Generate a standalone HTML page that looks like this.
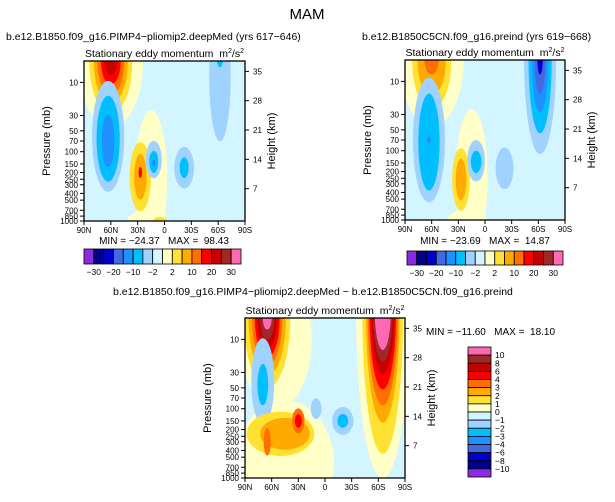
<!DOCTYPE html>
<html><head><meta charset="utf-8">
<style>
body{margin:0;background:#fff;width:615px;height:497px;overflow:hidden;font-family:"Liberation Sans",sans-serif}
svg text{font-family:"Liberation Sans",sans-serif;fill:#000;white-space:pre}
</style></head>
<body>
<svg id="chart" width="615" height="497" viewBox="0 0 615 497" xmlns="http://www.w3.org/2000/svg">
<text x="307" y="19" font-size="15" text-anchor="middle">MAM</text>
<text x="6" y="40" font-size="10.5">b.e12.B1850.f09_g16.PIMP4−pliomip2.deepMed (yrs 617−646)</text>
<text x="362" y="40" font-size="10.5">b.e12.B1850C5CN.f09_g16.preind (yrs 619−668)</text>
<text x="113" y="295" font-size="10.5">b.e12.B1850.f09_g16.PIMP4−pliomip2.deepMed − b.e12.B1850C5CN.f09_g16.preind</text>
<text x="164" y="244" font-size="10" text-anchor="middle">MIN = −24.37   MAX =  98.43</text>
<text x="485" y="244" font-size="10" text-anchor="middle">MIN = −23.69   MAX =  14.87</text>
<text x="426" y="335" font-size="10">MIN = −11.60   MAX =  18.10</text>
</svg>
<script>
const NS='http://www.w3.org/2000/svg';
const svg=document.getElementById('chart');
const palette=['#8a2be2','#00008b','#0000cd','#4169e1','#1e90ff','#00bfff','#a0d2ff','#d2f5ff','#ffffc8','#ffe132','#ffaa00','#ff6e00','#ff0000','#c80000','#a02828','#ff69b4'];
const latTicks=[90,60,30,0,-30,-60,-90];
const latLabels=['90N','60N','30N','0','30S','60S','90S'];
const pTicks=[10,30,50,70,100,150,200,250,300,400,500,700,850,1000];
const zTicks=[35,28,21,14,7];
const topLevels=['−30','−20','−10','−2','2','10','20','30'];
const diffLevels=['10','8','6','4','3','2','1','0','−1','−2','−3','−4','−6','−8','−10'];
// blobs: [lat, pressure(mb), halfwidth deg, halfheight decades, colorIndex]
const blobsA=[[60,5,36,0.95,8],[15,250,18,1.0,8],[20,1000,22,0.15,8],[60,5,24,0.75,9],[60,5,19,0.6,10],[60,5,15,0.48,11],[60,5,11,0.33,12],[60,5,7,0.2,13],
[63,60,18,0.8,6],[63,65,13,0.62,5],[63,70,7,0.38,4],[27,230,12,0.5,9],[27,230,7,0.33,10],[27,200,2,0.08,12],
[12,130,9,0.27,6],[12,140,5,0.16,5],[12,145,2,0.05,4],[-22,170,11,0.3,6],[-22,170,5,0.15,5],[-62,8,12,0.95,6],[-62,4,4,0.18,5],[5,1000,8,0.06,9]];
const blobsB=[[60,5,36,0.95,8],[15,250,18,1.0,8],[20,1000,22,0.15,8],[60,5,22,0.7,9],[60,5,16,0.5,10],[60,5,8,0.2,11],
[63,70,18,0.9,6],[63,75,12,0.7,5],[63,70,2,0.05,4],[27,260,10,0.45,9],[27,260,6,0.3,10],
[10,140,10,0.3,6],[10,145,6,0.16,5],[-22,180,10,0.3,6],[-62,5,18,1.35,6],[-62,5,13,1.05,5],[-62,5,9,0.75,4],[-62,5,6,0.48,3],[-62,5,3,0.2,2]];
const blobsC=[[45,600,55,0.9,8],[55,10,40,1.0,8],[-65,4,30,2.4,8],[65,5,26,1.0,9],[65,5,21,0.82,10],[65,5,17,0.68,11],[65,5,14,0.56,12],[65,5,11,0.44,13],[65,5,8,0.3,14],[65,5,5,0.16,15],
[-65,4,23,2.05,9],[-65,4,19,1.6,10],[-65,4,17,1.35,11],[-65,4,15,1.12,12],[-65,4,13,0.9,13],[-65,4,11,0.72,14],[-65,4,9,0.55,15],
[70,40,13,0.62,6],[70,45,6,0.3,5],[50,230,38,0.32,9],[45,230,28,0.23,10],[30,150,7,0.18,11],[30,150,4,0.1,12],[65,300,4,0.2,11],
[10,100,6,0.15,6],[-20,150,12,0.2,6],[-20,150,6,0.1,5]];
const panels=[{x:84,y:61,w:161,h:160,blobs:blobsA,bg:7,n:'a'},{x:405,y:60,w:160,h:160,blobs:blobsB,bg:7,n:'b'},{x:245,y:318,w:160,h:160,blobs:blobsC,bg:7,n:'c'}];
function el(t,a,p){const e=document.createElementNS(NS,t);for(const k in a)e.setAttribute(k,a[k]);(p||svg).appendChild(e);return e;}
const defs=el('defs',{});
panels.forEach(P=>{
 const xs=lat=>P.x+(90-lat)/180*P.w;
 const ys=p=>P.y+P.h-(Math.log10(1000/p))*69.3;
 const cp=el('clipPath',{id:'clip'+P.n},defs);el('rect',{x:P.x,y:P.y,width:P.w,height:P.h},cp);
 const g=el('g',{'clip-path':'url(#clip'+P.n+')'});
 
 
 el('rect',{x:P.x,y:P.y,width:P.w,height:P.h,fill:palette[P.bg]},g);
 P.blobs.forEach(b=>{
  const e=el('ellipse',{cx:xs(b[0]),cy:ys(b[1]),rx:b[2]/180*P.w,ry:b[3]*69.3,fill:palette[b[4]]},g);
  
  
 });
 const fr=el('rect',{x:P.x,y:P.y,width:P.w,height:P.h,fill:'none',stroke:'#000','stroke-width':1.3});
 
 
 latTicks.forEach((l,i)=>{const x=xs(l);el('line',{x1:x,x2:x,y1:P.y+P.h,y2:P.y+P.h+4,stroke:'#000'});
  const t=el('text',{x:x,y:P.y+P.h+12,'font-size':8,'text-anchor':'middle'});t.textContent=latLabels[i];
  });
 pTicks.forEach(p=>{const y=ys(p);el('line',{x1:P.x-4,x2:P.x,y1:y,y2:y,stroke:'#000'});
  const t=el('text',{x:P.x-6,y:y+3,'font-size':8,'text-anchor':'end'});t.textContent=p;
  });
 zTicks.forEach(z=>{const y=P.y+P.h-(z/37)*155-3;el('line',{x1:P.x+P.w,x2:P.x+P.w+4,y1:y,y2:y,stroke:'#000'});
  const t=el('text',{x:P.x+P.w+8,y:y+3,'font-size':8});t.textContent=z;
  });
 const yt=el('text',{x:0,y:0,'font-size':11,'text-anchor':'middle',transform:`translate(${P.x-34},${P.y+P.h/2}) rotate(-90)`});yt.textContent='Pressure (mb)';
 
 const ht=el('text',{x:0,y:0,'font-size':11,'text-anchor':'middle',transform:`translate(${P.x+P.w+30},${P.y+P.h/2}) rotate(-90)`});ht.textContent='Height (km)';
 
 const st=el('text',{x:P.x+P.w/2,y:P.y-4,'font-size':10.5,'text-anchor':'middle'});st.innerHTML='Stationary eddy momentum  m<tspan font-size="7" dy="-4">2</tspan><tspan dy="4">/s</tspan><tspan font-size="7" dy="-4">2</tspan>';
 
});
[[84,249,157,15],[407,251,156,14]].forEach(c=>{
 const bw=c[2]/16;
 palette.forEach((col,i)=>{const r=el('rect',{x:c[0]+i*bw,y:c[1],width:bw,height:c[3],fill:col,stroke:'#000','stroke-width':0.8});
  });
 topLevels.forEach((l,i)=>{const t=el('text',{x:c[0]+(2*i+1)*bw,y:c[1]+c[3]+11,'font-size':8.5,'text-anchor':'middle'});t.textContent=l;
  });
});
const vb={x:468,y:347,w:23,h:130};const bh=vb.h/16;
palette.slice().reverse().forEach((col,i)=>{const r=el('rect',{x:vb.x,y:vb.y+i*bh,width:vb.w,height:bh,fill:col,stroke:'#000','stroke-width':0.8});
 });
diffLevels.forEach((l,i)=>{const t=el('text',{x:vb.x+27,y:vb.y+(i+1)*bh+3,'font-size':8.5});t.textContent=l;
 });
</script>
</body></html>
